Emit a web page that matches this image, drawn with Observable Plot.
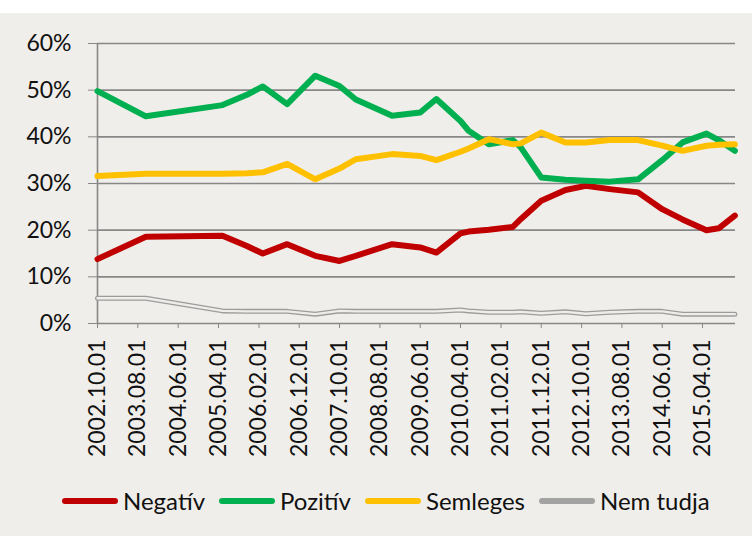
<!DOCTYPE html>
<html>
<head>
<meta charset="utf-8">
<script src="https://cdn.jsdelivr.net/npm/d3@7"></script>
<script src="https://cdn.jsdelivr.net/npm/@observablehq/plot@0.6"></script>
<style>
  html, body { margin: 0; padding: 0; background: #ffffff; }
  #panel { position: absolute; left: 0; top: 13px; width: 752px; height: 523px; background: #f0eeea; font-family: Lato, "Open Sans", sans-serif; color: #111111; }
  #chart { position: absolute; left: 0; top: 0; }
  #legend { position: absolute; left: 62px; top: 473px; display: flex; align-items: center; gap: 14px; font-size: 24px; }
  .item { display: flex; align-items: center; gap: 5px; }
  .swatch { width: 56px; height: 6px; border-radius: 3px; }
</style>
</head>
<body>
<div id="panel">
  <div id="chart"></div>
  <div id="legend"></div>
</div>
<script>
// ---- Data ----
const seriesNames = ["Negatív", "Pozitív", "Semleges", "Nem tudja"];
const seriesColors = ["#c00000", "#00b050", "#ffc000", "#a3a3a3"];

const tickLabels = ["2002.10.01","2003.08.01","2004.06.01","2005.04.01","2006.02.01","2006.12.01",
  "2007.10.01","2008.08.01","2009.06.01","2010.04.01","2011.02.01","2011.12.01","2012.10.01",
  "2013.08.01","2014.06.01","2015.04.01"];
const yTicks = [0, 10, 20, 30, 40, 50, 60];

const surveyDates = ["2002-10-01","2003-10-01","2005-05-01","2005-11-01","2006-03-01","2006-09-01",
  "2007-04-01","2007-10-01","2008-02-01","2008-11-01","2009-06-01","2009-10-01","2010-04-01",
  "2010-06-01","2010-11-01","2011-05-01","2011-07-01","2011-12-01","2012-06-01","2012-11-01",
  "2013-05-01","2013-12-01","2014-06-01","2014-11-01","2015-05-01","2015-08-01","2015-12-01"];

const negativ   = [13.8,18.6,18.8,16.6,15.0,17.0,14.5,13.4,14.5,17.0,16.3,15.2,19.3,19.7,20.1,20.7,22.4,26.3,28.6,29.5,28.8,28.1,24.5,22.3,20.0,20.4,23.1];
const pozitiv   = [49.8,44.4,46.8,49.0,50.8,47.0,53.1,50.9,48.0,44.5,45.2,48.1,43.4,41.3,38.4,39.3,37.7,31.3,30.8,30.6,30.4,30.9,35.0,38.8,40.7,39.3,37.0];
const semleges  = [31.6,32.1,32.1,32.2,32.4,34.2,30.9,33.2,35.2,36.3,35.9,35.0,36.8,37.5,39.5,38.4,38.6,40.9,38.8,38.8,39.3,39.3,38.1,37.0,38.1,38.3,38.4];
const nemTudja  = [5.4,5.4,2.7,2.6,2.6,2.6,2.0,2.7,2.6,2.6,2.6,2.6,2.9,2.7,2.4,2.4,2.5,2.2,2.5,2.1,2.4,2.6,2.6,2.0,2.0,2.0,2.0];

const xStart = "2002-10-01";
const xEnd = "2015-12-06";

// ---- Build table ----
const parseIso = d3.utcParse("%Y-%m-%d");
const parseTick = d3.utcParse("%Y.%m.%d");
const allValues = [negativ, pozitiv, semleges, nemTudja];
const rows = allValues.map((vals, i) =>
  vals.map((v, j) => ({series: seriesNames[i], date: parseIso(surveyDates[j]), value: v})));
const tickDates = tickLabels.map(parseTick);

const gridColor = "#878787";
const lw = 6;

const chart = Plot.plot({
  width: 752,
  height: 460,
  marginLeft: 97,
  marginRight: 17,
  marginTop: 30,
  marginBottom: 150,
  style: {fontFamily: "Lato, 'Open Sans', sans-serif", background: "transparent", color: "#111111"},
  x: {type: "utc", domain: [parseIso(xStart), parseIso(xEnd)]},
  y: {domain: [0, 60]},
  marks: [
    Plot.ruleY(yTicks, {stroke: gridColor, strokeWidth: 1.6}),
    Plot.ruleX([parseIso(xStart)], {stroke: gridColor, strokeWidth: 1.6}),
    Plot.axisY({ticks: yTicks, tickFormat: d => d + "%", tickSize: 9, tickPadding: 17, fontSize: 23,
      stroke: gridColor, fill: "#111111", label: null}),
    Plot.axisX({ticks: tickDates, tickFormat: d3.utcFormat("%Y.%m.%d"), tickRotate: -90, tickSize: 5,
      tickPadding: 11, fontSize: 23, stroke: gridColor, fill: "#111111", label: null}),
    Plot.line(rows[0], {x: "date", y: "value", stroke: seriesColors[0], strokeWidth: lw, strokeLinejoin: "round", strokeLinecap: "round"}),
    Plot.line(rows[1], {x: "date", y: "value", stroke: seriesColors[1], strokeWidth: lw, strokeLinejoin: "round", strokeLinecap: "round"}),
    Plot.line(rows[2], {x: "date", y: "value", stroke: seriesColors[2], strokeWidth: lw, strokeLinejoin: "round", strokeLinecap: "round"}),
    Plot.line(rows[3], {x: "date", y: "value", stroke: "#9c9c9c", strokeWidth: 5, strokeLinejoin: "round"}),
    Plot.line(rows[3], {x: "date", y: "value", stroke: "#efede9", strokeWidth: 2.4, strokeLinejoin: "round"})
  ]
});
document.getElementById("chart").appendChild(chart);

// ---- Legend ----
const legend = document.getElementById("legend");
seriesNames.forEach((name, i) => {
  const item = document.createElement("div");
  item.className = "item";
  const sw = document.createElement("div");
  sw.className = "swatch";
  sw.style.background = seriesColors[i];
  const label = document.createElement("span");
  label.textContent = name;
  item.appendChild(sw);
  item.appendChild(label);
  legend.appendChild(item);
});
</script>
</body>
</html>
